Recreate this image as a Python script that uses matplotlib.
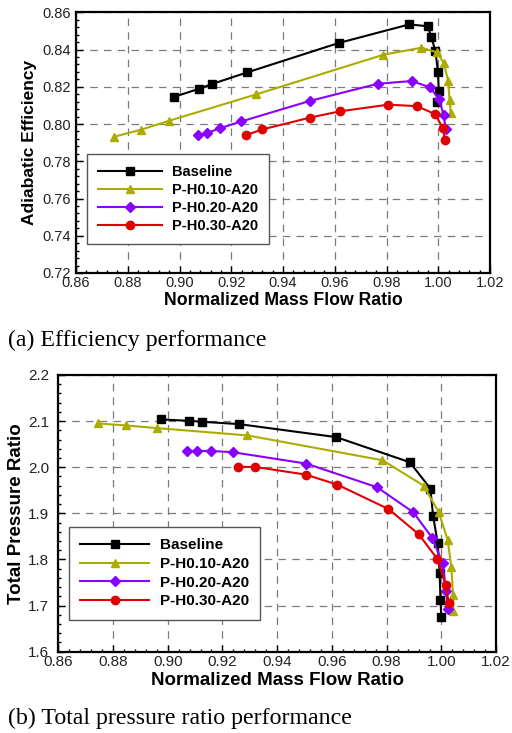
import matplotlib
matplotlib.use("Agg")
import matplotlib.pyplot as plt
from matplotlib.ticker import MultipleLocator, FormatStrFormatter

# ---------------- data: (a) efficiency ----------------
base_eff_x = [0.8977, 0.9077, 0.9126, 0.9261, 0.9615, 0.9888, 0.9960, 0.9973, 0.9989, 0.9999, 1.0002, 0.9996]
base_eff_y = [0.8145, 0.8190, 0.8215, 0.8277, 0.8435, 0.8535, 0.8525, 0.8466, 0.8394, 0.8278, 0.8176, 0.8117]

h10_eff_x = [0.8748, 0.8850, 0.8961, 0.9296, 0.9788, 0.9935, 0.9995, 1.0022, 1.0038, 1.0044, 1.0048]
h10_eff_y = [0.7932, 0.7969, 0.8018, 0.8159, 0.8372, 0.8410, 0.8385, 0.8326, 0.8233, 0.8129, 0.8061]

h20_eff_x = [0.9072, 0.9108, 0.9158, 0.9239, 0.9506, 0.9766, 0.9897, 0.9968, 1.0004, 1.0021, 1.0029]
h20_eff_y = [0.7939, 0.7953, 0.7978, 0.8014, 0.8125, 0.8216, 0.8231, 0.8197, 0.8132, 0.8046, 0.7971]

h30_eff_x = [0.9256, 0.9320, 0.9506, 0.9619, 0.9807, 0.9918, 0.9988, 1.0017, 1.0027]
h30_eff_y = [0.7940, 0.7971, 0.8035, 0.8068, 0.8104, 0.8096, 0.8053, 0.7980, 0.7914]

# ---------------- data: (b) total pressure ratio ----------------
base_pr_x = [0.8977, 0.9077, 0.9125, 0.9261, 0.9616, 0.9885, 0.9960, 0.9970, 0.9987, 0.9994, 0.9997, 1.0000]
base_pr_y = [2.1036, 2.1007, 2.0986, 2.0935, 2.0653, 2.0108, 1.9538, 1.8949, 1.8350, 1.7711, 1.7123, 1.6755]

h10_pr_x = [0.8746, 0.8847, 0.8962, 0.9291, 0.9785, 0.9935, 0.9991, 1.0023, 1.0037, 1.0043, 1.0044]
h10_pr_y = [2.0949, 2.0906, 2.0848, 2.0690, 2.0152, 1.9603, 1.9022, 1.8430, 1.7827, 1.7238, 1.6877]

h20_pr_x = [0.9072, 0.9108, 0.9158, 0.9239, 0.9506, 0.9765, 0.9898, 0.9967, 1.0005, 1.0017, 1.0025]
h20_pr_y = [2.0354, 2.0354, 2.0354, 2.0325, 2.0079, 1.9567, 1.9022, 1.8466, 1.7913, 1.7325, 1.6928]

h30_pr_x = [0.9256, 0.9319, 0.9504, 0.9619, 0.9807, 0.9918, 0.9986, 1.0016, 1.0027]
h30_pr_y = [2.0007, 2.0007, 1.9841, 1.9625, 1.9094, 1.8545, 1.8007, 1.7448, 1.7065]

labels = ["Baseline", "P-H0.10-A20", "P-H0.20-A20", "P-H0.30-A20"]
colors = ["#000000", "#acac00", "#8a00ff", "#e00000"]
markers = ["s", "^", "D", "o"]
msizes = [5.5, 6.0, 5.0, 6.0]

SANS = ["Liberation Sans", "DejaVu Sans"]
SERIF = ["Liberation Serif", "DejaVu Serif"]

fig = plt.figure(figsize=(5.12, 7.33), dpi=100)

ax1 = fig.add_axes([76/512, 1-273/733, (490-76)/512, (273-12.3)/733])
ax2 = fig.add_axes([58.3/512, 1-651.7/733, (496-58.3)/512, (651.7-375)/733])


def style(ax, ymin, ymax, ymaj, ymin_step, yfmt, ypad, lsize):
    ax.set_xlim(0.86, 1.02)
    ax.set_ylim(ymin, ymax)
    ax.xaxis.set_major_locator(MultipleLocator(0.02))
    ax.xaxis.set_minor_locator(MultipleLocator(0.004))
    ax.yaxis.set_major_locator(MultipleLocator(ymaj))
    ax.yaxis.set_minor_locator(MultipleLocator(ymin_step))
    ax.xaxis.set_major_formatter(FormatStrFormatter("%.2f"))
    ax.yaxis.set_major_formatter(FormatStrFormatter(yfmt))
    ax.tick_params(which="major", direction="in", length=5, width=1, color="black",
                   labelsize=lsize, labelcolor="#222222", top=False, right=False)
    ax.tick_params(which="minor", direction="in", length=2.5, width=1, color="black",
                   top=False, right=False)
    ax.tick_params(axis="x", which="major", pad=2.2)
    ax.tick_params(axis="y", which="major", pad=ypad)
    for lab in ax.get_xticklabels() + ax.get_yticklabels():
        lab.set_family(SANS)
    for sp in ax.spines.values():
        sp.set_linewidth(1.6)
    ax.grid(True, which="major", color="#7a7a7a", linewidth=0.9, linestyle=(0, (6, 5)))
    ax.set_axisbelow(True)


style(ax1, 0.72, 0.86, 0.02, 0.004, "%.2f", 3.5, 10.5)
style(ax2, 1.6, 2.2, 0.1, 0.02, "%.1f", 6.5, 11)

eff_sets = [(base_eff_x, base_eff_y), (h10_eff_x, h10_eff_y), (h20_eff_x, h20_eff_y), (h30_eff_x, h30_eff_y)]
pr_sets = [(base_pr_x, base_pr_y), (h10_pr_x, h10_pr_y), (h20_pr_x, h20_pr_y), (h30_pr_x, h30_pr_y)]

for ax, sets in ((ax1, eff_sets), (ax2, pr_sets)):
    for (x, y), lab, c, m, ms in zip(sets, labels, colors, markers, msizes):
        ax.plot(x, y, color=c, marker=m, markersize=ms, linewidth=1.5, label=lab,
                markeredgecolor=c, markerfacecolor=c, clip_on=False, zorder=3)

for ax, anchor, fs, hl, ls in ((ax1, (0.0266, 0.4565), 10.5, 4.4, 0.28),
                               (ax2, (0.0244, 0.4507), 11, 4.5, 0.30)):
    leg = ax.legend(loc="upper left", bbox_to_anchor=anchor, borderaxespad=0,
                    prop=dict(family=SANS, weight="bold", size=fs), handlelength=hl,
                    handletextpad=0.7, labelspacing=ls, borderpad=0.75,
                    fancybox=False, framealpha=1, edgecolor="#555555")
    leg.get_frame().set_linewidth(1.0)

ax1.text(0.5, (273-300.5)/260.7, "Normalized Mass Flow Ratio", transform=ax1.transAxes,
         ha="center", va="center", family=SANS, weight="bold", size=12.7)
ax1.text(-0.113, 0.5, "Adiabatic Efficiency", transform=ax1.transAxes, rotation=90,
         ha="center", va="center", family=SANS, weight="bold", size=12.5)
ax2.text(0.5, (651.7-680.5)/276.7, "Normalized Mass Flow Ratio", transform=ax2.transAxes,
         ha="center", va="center", family=SANS, weight="bold", size=13.5)
ax2.text(-0.0944, 0.5, "Total Pressure Ratio", transform=ax2.transAxes, rotation=90,
         ha="center", va="center", family=SANS, weight="bold", size=13.5)

fig.text(8/512, 1-340.5/733, "(a) Efficiency performance", family=SERIF, size=17.2,
         ha="left", va="center")
fig.text(8/512, 1-718/733, "(b) Total pressure ratio performance", family=SERIF, size=17.2,
         ha="left", va="center")

fig.savefig("out.png", dpi=100)
